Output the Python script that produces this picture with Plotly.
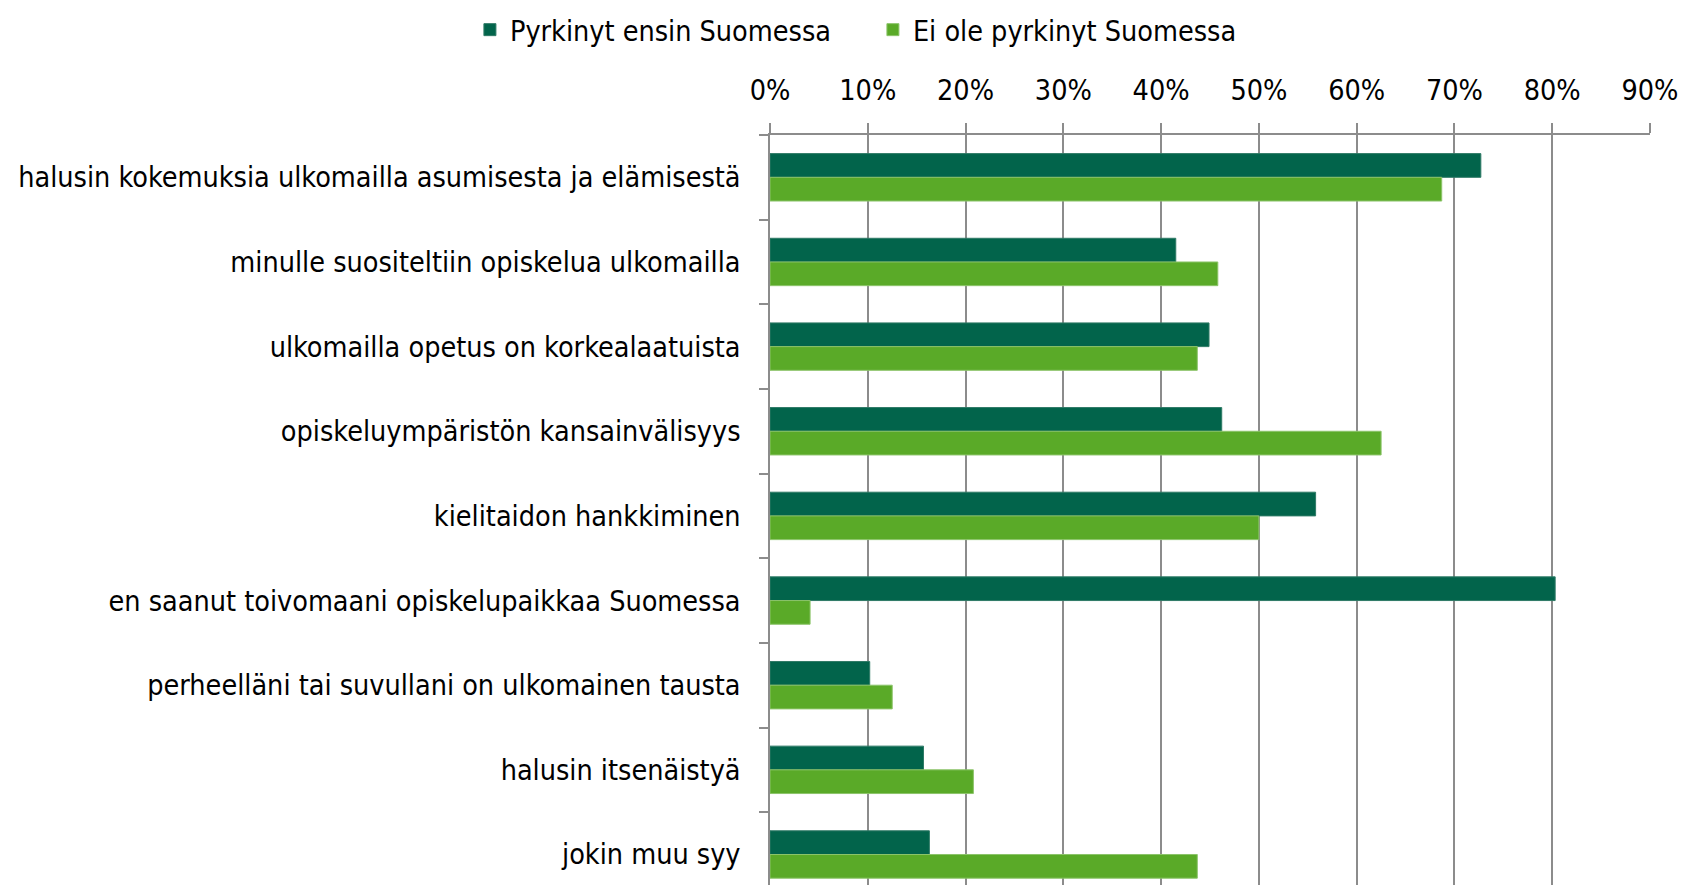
import plotly.graph_objects as go

syyt = [
    "halusin kokemuksia ulkomailla asumisesta ja elämisestä",
    "minulle suositeltiin opiskelua ulkomailla",
    "ulkomailla opetus on korkealaatuista",
    "opiskeluympäristön kansainvälisyys",
    "kielitaidon hankkiminen",
    "en saanut toivomaani opiskelupaikkaa Suomessa",
    "perheelläni tai suvullani on ulkomainen tausta",
    "halusin itsenäistyä",
    "jokin muu syy",
]
pyrkinyt = [0.727, 0.415, 0.449, 0.462, 0.558, 0.803, 0.102, 0.157, 0.163]
ei_pyrkinyt = [0.687, 0.458, 0.437, 0.625, 0.500, 0.041, 0.125, 0.208, 0.437]
x_ticks = [0, 0.1, 0.2, 0.3, 0.4, 0.5, 0.6, 0.7, 0.8, 0.9]

FONT = "Liberation Sans Narrow, DejaVu Sans Condensed, Arial Narrow, sans-serif"
GRID = "#8c8c8c"

fig = go.Figure()
fig.add_trace(go.Bar(y=syyt, x=pyrkinyt, orientation="h", name="Pyrkinyt ensin Suomessa",
                     marker=dict(color="#02644b", line=dict(color="#2f7a66", width=1))))
fig.add_trace(go.Bar(y=syyt, x=ei_pyrkinyt, orientation="h", name="Ei ole pyrkinyt Suomessa",
                     marker=dict(color="#5aaa28", line=dict(color="#8cc46a", width=1))))

fig.update_layout(
    width=1687, height=885,
    margin=dict(l=762, r=45, t=127, b=0, autoexpand=False),
    barmode="group", bargap=0.44, bargroupgap=0,
    plot_bgcolor="white", paper_bgcolor="white",
    font=dict(family=FONT, size=28.5, color="black"),
    legend=dict(orientation="h", x=-0.341, y=1.172, xanchor="left", yanchor="top",
                font=dict(size=28.5), itemwidth=30, entrywidthmode="pixels", entrywidth=358,
                traceorder="normal"),
    showlegend=True,
)
fig.update_xaxes(side="top", range=[0, 0.9], tickvals=x_ticks, tickformat=".0%",
                 showgrid=True, gridcolor=GRID, gridwidth=1.5,
                 showline=True, linecolor=GRID, linewidth=1.5,
                 ticks="outside", ticklen=10, tickcolor=GRID, tickwidth=1.5,
                 ticklabelstandoff=12, zeroline=False)
fig.update_yaxes(range=[8.455, -0.5], showgrid=False,
                 showline=True, linecolor=GRID, linewidth=1.5,
                 ticks="outside", tickson="boundaries", ticklen=9, tickcolor=GRID, tickwidth=1.5,
                 ticklabelstandoff=22)

fig.write_html("out.html")
